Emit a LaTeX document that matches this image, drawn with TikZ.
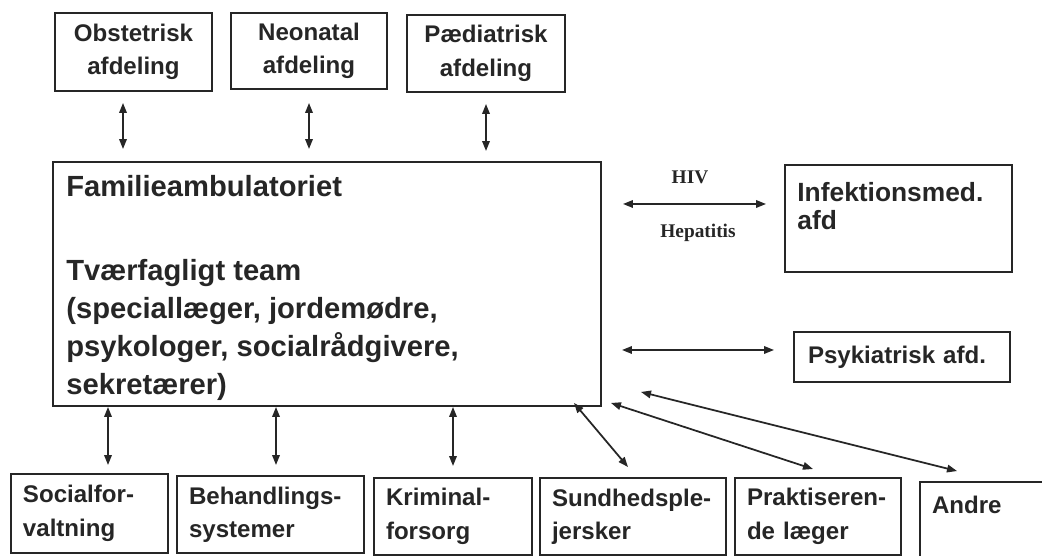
\documentclass[tikz,border=0pt]{standalone}
\usepackage{fontspec}
\setmainfont{Liberation Sans}
\newfontfamily\hivfont{Liberation Serif}
\usetikzlibrary{arrows.meta}

\tikzset{
  afd/.style = {draw=black!85, line width=1.1pt, text=black!85, font=\fontsize{13.7pt}{19pt}\selectfont\bfseries, align=center},
  lowafd/.style = {afd, align=left, inner xsep=0.24cm, text width=#1, minimum height=1.54cm},
  link/.style = {{Triangle[length=0.2cm,width=0.15cm]}-{Triangle[length=0.2cm,width=0.15cm]}, line width=1pt, draw=black!85},
  boxtxt/.style = {anchor=north west, inner sep=0pt, align=left, text=black!85},
  infolbl/.style = {inner sep=0pt, text=black!85, font=\hivfont\fontsize{11pt}{13pt}\selectfont\bfseries}
}

\begin{document}
\begin{tikzpicture}

\useasboundingbox (0,0) rectangle (20.84,11.12);

% hospital departments on top
\node [afd, minimum width=3.14cm, minimum height=1.56cm] (obst) at (2.67,10.08) {Obstetrisk\\afdeling};
\node [afd, minimum width=3.12cm, minimum height=1.52cm] (neo) at (6.18,10.10) {Neonatal\\afdeling};
\node [afd, minimum width=3.16cm, minimum height=1.54cm] (paed) at (9.72,10.05) {Pædiatrisk\\afdeling};

\node [afd, minimum width=10.96cm, minimum height=4.88cm] (fam) at (6.54,5.44) {};
\node [boxtxt, font=\fontsize{16.6pt}{21.6pt}\selectfont\bfseries] (famtxt) at ([xshift=0.28cm,yshift=-0.28cm]fam.north west)
  {Familieambulatoriet\\[26pt]Tværfagligt team\\(speciallæger, jordemødre,\\psykologer, socialrådgivere,\\sekretærer)};

\node [afd, minimum width=4.54cm, minimum height=2.14cm] (inf) at (17.97,6.75) {};
\node [boxtxt, font=\fontsize{15pt}{16pt}\selectfont\bfseries] (inftxt) at ([xshift=0.26cm,yshift=-0.36cm]inf.north west) {Infektionsmed.\\afd};

\node [afd, align=left, inner xsep=0.28cm, text width=3.76cm, minimum height=1.0cm] (psy) at (18.04,3.98) {Psykiatrisk afd.};

% outside the hospital
\node [lowafd=2.66cm, minimum height=1.58cm] (soc) at (1.79,0.85) {Socialfor-\\valtning};
\node [lowafd=3.26cm] (beh) at (5.41,0.83) {Behandlings-\\systemer};
\node [lowafd=2.68cm] (krim) at (9.06,0.79) {Kriminal-\\forsorg};
\node [lowafd=3.24cm] (sund) at (12.66,0.79) {Sundhedsple-\\jersker};
\node [lowafd=2.84cm] (prak) at (16.36,0.79) {Praktiseren-\\de læger};
\node [lowafd=2.32cm, minimum height=1.56cm] (andre) at (19.80,0.70) {Andre\\\mbox{}};

\draw[link, shorten <=0.22cm, shorten >=0.24cm] ([xshift=-0.21cm]obst.south) -- ([xshift=-0.21cm]obst.south |- fam.north);
\draw[link, shorten <=0.26cm, shorten >=0.24cm] (neo.south) -- (neo.south |- fam.north);
\draw[link, shorten <=0.22cm, shorten >=0.20cm] (paed.south) -- (paed.south |- fam.north);

\draw[link, shorten <=0.42cm, shorten >=0.36cm] ([yshift=0.29cm]inf.west -| fam.east) -- node [infolbl, above=0.39cm, xshift=-0.06cm] (hiv) {HIV} node [infolbl, below=0.39cm, xshift=0.1cm] (hep) {Hepatitis} ([yshift=0.29cm]inf.west);
\draw[link, shorten <=0.40cm, shorten >=0.38cm] ([yshift=0.14cm]psy.west -| fam.east) -- ([yshift=0.14cm]psy.west);

\draw[link, shorten >=0.16cm] ([xshift=0.37cm]soc.north |- fam.south) -- ([xshift=0.37cm]soc.north);
\draw[link, shorten >=0.20cm] ([xshift=0.11cm]beh.north |- fam.south) -- ([xshift=0.11cm]beh.north);
\draw[link, shorten >=0.22cm] (krim.north |- fam.south) -- (krim.north);
\draw[link] ([xshift=-0.56cm,yshift=0.08cm]fam.south east) -- ([xshift=-0.1cm,yshift=0.2cm]sund.north);
\draw[link] ([xshift=0.18cm,yshift=0.08cm]fam.south east) -- ([xshift=-0.1cm,yshift=0.16cm]prak.north);
\draw[link] ([xshift=0.78cm,yshift=0.3cm]fam.south east) -- ([xshift=0.76cm,yshift=0.2cm]andre.north west);

\end{tikzpicture}
\end{document}
